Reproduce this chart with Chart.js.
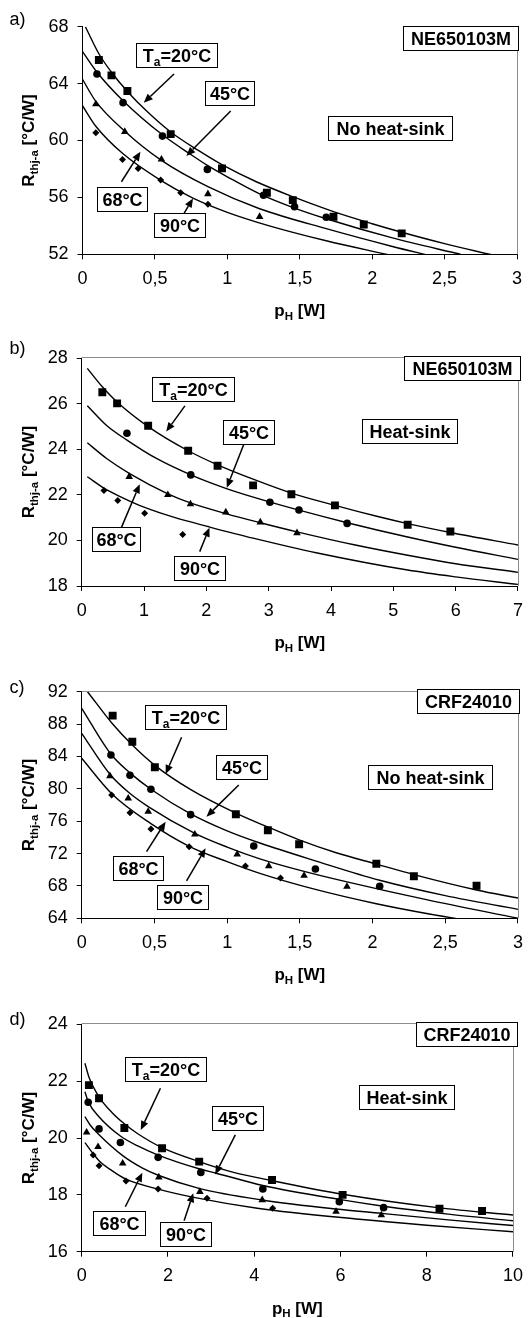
<!DOCTYPE html>
<html><head><meta charset="utf-8">
<script src="https://cdn.jsdelivr.net/npm/chart.js@4.4.1/dist/chart.umd.min.js"></script>
<style>
html,body{margin:0;padding:0;background:#fff;}
#wrap{position:relative;width:532px;height:1318px;overflow:hidden;}
canvas{position:absolute;left:0;}
</style></head><body><div id="wrap">
<canvas id="ca" width="532" height="329" style="top:0px"></canvas>
<canvas id="cb" width="532" height="330" style="top:329px"></canvas>
<canvas id="cc" width="532" height="329" style="top:659px"></canvas>
<canvas id="cd" width="532" height="330" style="top:988px"></canvas>
</div>
<script>
// ---------- Panel a (NE650103M, no heat-sink) ----------
const aXTicks = [0, 0.5, 1, 1.5, 2, 2.5, 3];
const aYTicks = [52, 56, 60, 64, 68];
const a20x = [0.113, 0.2, 0.31, 0.609, 0.963, 1.273, 1.452, 1.733, 1.942, 2.204];
const a20y = [65.66, 64.58, 63.48, 60.45, 58.04, 56.33, 55.81, 54.64, 54.1, 53.47];
const a45x = [0.1, 0.28, 0.552, 0.862, 1.25, 1.464, 1.683];
const a45y = [64.67, 62.66, 60.31, 57.97, 56.15, 55.34, 54.6];
const a68x = [0.092, 0.292, 0.545, 0.866, 1.223];
const a68y = [62.56, 60.62, 58.67, 56.24, 54.64];
const a90x = [0.092, 0.276, 0.384, 0.54, 0.678, 0.866];
const a90y = [60.55, 58.67, 58.04, 57.22, 56.33, 55.51];
const aF20x = [0.02, 0.113, 0.2, 0.31, 0.45, 0.609, 0.8, 0.963, 1.2, 1.452, 1.733, 2.0, 2.204, 2.5, 2.83];
const aF20y = [68.0, 66.1, 64.8, 63.45, 62.0, 60.6, 59.3, 58.3, 57.1, 56.05, 55.0, 54.15, 53.55, 52.75, 51.95];
const aF45x = [0.0, 0.1, 0.28, 0.552, 0.75, 0.862, 1.0, 1.223, 1.464, 1.683, 2.14, 2.61];
const aF45y = [66.25, 64.8, 62.8, 60.4, 59.0, 58.25, 57.45, 56.25, 55.25, 54.5, 53.15, 52.0];
const aF68x = [0.0, 0.092, 0.292, 0.545, 0.866, 1.223, 1.683, 2.14, 2.4];
const aF68y = [64.3, 62.75, 60.65, 58.6, 56.75, 55.2, 53.8, 52.55, 51.9];
const aF90x = [0.0, 0.092, 0.276, 0.54, 0.763, 1.0, 1.29, 1.683, 2.12];
const aF90y = [62.45, 61.0, 59.1, 57.2, 55.95, 54.95, 54.0, 52.95, 51.95];

// ---------- Panel b (NE650103M, heat-sink) ----------
const bXTicks = [0, 1, 2, 3, 4, 5, 6, 7];
const bYTicks = [18, 20, 22, 24, 26, 28];
const b20x = [0.331, 0.568, 1.066, 1.708, 2.18, 2.75, 3.364, 4.063, 5.23, 5.915];
const b20y = [26.51, 26.02, 25.04, 23.94, 23.28, 22.42, 22.03, 21.54, 20.69, 20.39];
const b45x = [0.726, 1.75, 3.02, 3.486, 4.259];
const b45y = [24.71, 22.88, 21.68, 21.34, 20.75];
const b68x = [0.762, 1.382, 1.745, 2.312, 2.865, 3.454];
const b68y = [22.8, 22.0, 21.6, 21.24, 20.8, 20.33];
const b90x = [0.357, 0.578, 1.01, 1.62];
const b90y = [22.19, 21.75, 21.2, 20.26];
const bF20x = [0.09, 0.331, 0.568, 1.066, 1.708, 2.18, 2.75, 3.364, 4.063, 4.75, 5.23, 5.915, 7];
const bF20y = [27.56, 26.75, 26.08, 25.0, 23.94, 23.32, 22.69, 22.08, 21.54, 21.05, 20.74, 20.35, 19.8];
const bF45x = [0.09, 0.4, 0.726, 1.2, 1.75, 2.3, 2.78, 3.486, 4.26, 5.23, 6.0, 7];
const bF45y = [25.92, 25.05, 24.41, 23.6, 22.88, 22.3, 21.88, 21.33, 20.78, 20.15, 19.7, 19.17];
const bF68x = [0.09, 0.4, 0.762, 1.382, 1.745, 2.312, 2.865, 3.454, 4.39, 5.23, 6.0, 7];
const bF68y = [24.29, 23.6, 22.95, 22.05, 21.65, 21.18, 20.78, 20.38, 19.8, 19.35, 18.98, 18.6];
const bF90x = [0.09, 0.357, 0.6, 1.01, 1.5, 2.04, 2.75, 3.78, 5.23, 6.0, 7];
const bF90y = [22.8, 22.3, 21.95, 21.45, 21.0, 20.6, 20.1, 19.45, 18.7, 18.4, 18.07];

// ---------- Panel c (CRF24010, no heat-sink) ----------
const cXTicks = [0, 0.5, 1, 1.5, 2, 2.5, 3];
const cYTicks = [64, 68, 72, 76, 80, 84, 88, 92];
const c20x = [0.213, 0.348, 0.503, 1.06, 1.28, 1.495, 2.026, 2.284, 2.715];
const c20y = [89.04, 85.82, 82.66, 76.85, 74.88, 73.15, 70.75, 69.2, 68.03];
const c45x = [0.201, 0.332, 0.476, 0.749, 1.183, 1.607, 2.049];
const c45y = [84.18, 81.67, 79.94, 76.81, 72.94, 70.1, 67.96];
const c68x = [0.194, 0.32, 0.457, 0.778, 1.069, 1.286, 1.529, 1.824];
const c68y = [81.59, 78.83, 77.18, 74.38, 71.91, 70.47, 69.27, 67.91];
const c90x = [0.206, 0.332, 0.476, 0.739, 1.126, 1.367];
const c90y = [79.24, 77.05, 75.04, 72.85, 70.47, 68.99];
const cF20x = [0.04, 0.213, 0.348, 0.503, 0.75, 1.06, 1.277, 1.495, 1.75, 2.026, 2.284, 2.715, 3.0];
const cF20y = [92.0, 88.0, 85.4, 82.9, 79.9, 77.0, 75.3, 73.7, 72.1, 70.7, 69.4, 67.5, 66.5];
const cF45x = [0, 0.2, 0.33, 0.476, 0.749, 1.0, 1.225, 1.607, 2.049, 2.5, 3.0];
const cF45y = [89.95, 84.3, 82.0, 79.95, 76.9, 74.8, 73.3, 71.1, 68.7, 66.8, 65.1];
const cF68x = [0, 0.194, 0.32, 0.457, 0.778, 1.0, 1.225, 1.529, 1.824, 2.37, 3.0];
const cF68y = [86.86, 81.8, 79.6, 77.8, 74.5, 72.8, 71.35, 69.8, 68.5, 66.3, 64.0];
const cF90x = [0, 0.206, 0.476, 0.739, 1.0, 1.225, 1.6, 2.026, 2.4, 2.7];
const cF90y = [83.77, 79.4, 75.7, 72.9, 71.0, 69.55, 67.6, 65.8, 64.5, 63.6];

// ---------- Panel d (CRF24010, heat-sink) ----------
const dXTicks = [0, 2, 4, 6, 8, 10];
const dYTicks = [16, 18, 20, 22, 24];
const d20x = [0.167, 0.402, 0.989, 1.863, 2.724, 4.413, 6.05, 8.295, 9.283];
const d20y = [21.86, 21.4, 20.35, 19.64, 19.17, 18.52, 18.0, 17.51, 17.43];
const d45x = [0.151, 0.402, 0.897, 1.772, 2.762, 4.2, 5.973, 7.0];
const d45y = [21.26, 20.32, 19.84, 19.32, 18.79, 18.21, 17.76, 17.55];
const d68x = [0.114, 0.379, 0.95, 1.788, 2.74, 4.185, 5.897, 6.947];
const d68y = [20.2, 19.69, 19.11, 18.62, 18.11, 17.82, 17.41, 17.29];
const d90x = [0.265, 0.402, 1.027, 1.772, 2.906, 4.429];
const d90y = [19.4, 19.02, 18.49, 18.21, 17.88, 17.53];
const dF20x = [0.075, 0.167, 0.402, 0.7, 0.989, 1.3, 1.863, 2.72, 3.5, 4.41, 6.05, 8.3, 10];
const dF20y = [22.63, 22.15, 21.45, 20.9, 20.5, 20.15, 19.66, 19.17, 18.8, 18.5, 18.02, 17.54, 17.29];
const dF45x = [0.075, 0.151, 0.4, 0.897, 1.3, 1.772, 2.76, 3.1, 4.2, 5.97, 7.0, 8.5, 10];
const dF45y = [21.63, 21.28, 20.75, 20.07, 19.72, 19.4, 18.9, 18.77, 18.33, 17.84, 17.6, 17.32, 17.09];
const dF68x = [0.075, 0.2, 0.379, 0.95, 1.4, 1.788, 2.74, 4.18, 5.9, 6.95, 8.5, 10];
const dF68y = [20.75, 20.45, 20.15, 19.38, 18.95, 18.68, 18.22, 17.82, 17.5, 17.35, 17.12, 16.92];
const dF90x = [0.075, 0.265, 0.402, 0.7, 1.027, 1.772, 2.6, 4.07, 6.44, 8.0, 10];
const dF90y = [19.84, 19.45, 19.2, 18.85, 18.55, 18.2, 17.91, 17.53, 17.14, 16.93, 16.7];

// ---------- text / annotation labels ----------
const TA = [['T', 18, 0], ['a', 12, 4], ['=20°C', 18, 0]];
const T45 = [['45°C', 18, 0]], T68 = [['68°C', 18, 0]], T90 = [['90°C', 18, 0]];

const FONT = "'Liberation Sans', Arial, Helvetica, sans-serif";

const MARK = [
  {pointStyle: 'rect', pointRadius: 5.6},
  {pointStyle: 'circle', pointRadius: 3.8},
  {pointStyle: 'triangle', pointRadius: 4.4},
  {pointStyle: 'rectRot', pointRadius: 3.5}
];

function pts(xs, ys) { return xs.map((x, i) => ({x: x, y: ys[i]})); }

function rich(c, parts, x, y, align) {
  const ws = [];
  let total = 0;
  parts.forEach(p => { c.font = 'bold ' + p[1] + 'px ' + FONT; const w = c.measureText(p[0]).width; ws.push(w); total += w; });
  let cx = align === 'center' ? x - total / 2 : x;
  c.fillStyle = '#000'; c.textBaseline = 'alphabetic'; c.textAlign = 'left';
  parts.forEach((p, i) => { c.font = 'bold ' + p[1] + 'px ' + FONT; c.fillText(p[0], cx, y + p[2]); cx += ws[i]; });
}

const DECO = {};

const decoPlugin = {
  id: 'deco',
  afterDraw(chart) {
    const o = DECO[chart.canvas.id];
    if (!o) return;
    const c = chart.ctx, ca = chart.chartArea, X = chart.scales.x, Y = chart.scales.y;
    const px = v => X.getPixelForValue(v), py = v => Y.getPixelForValue(v);
    c.save();
    // plot border (grey)
    c.strokeStyle = '#8c8c8c'; c.lineWidth = 1;
    c.beginPath();
    const rx = Math.round(ca.right) + 0.5, ty = Math.round(ca.top) - 0.5;
    if (o.top) { c.moveTo(ca.left, ty); c.lineTo(rx, ty); }
    c.moveTo(rx, ty); c.lineTo(rx, ca.bottom);
    c.stroke();
    // arrows
    c.strokeStyle = '#000'; c.fillStyle = '#000'; c.lineWidth = 1.5;
    o.arrows.forEach(a => {
      const x1 = px(a[0]), y1 = py(a[1]), x2 = px(a[2]), y2 = py(a[3]);
      const ang = Math.atan2(y2 - y1, x2 - x1), L = 9, W = 3.8;
      const bx = x2 - L * Math.cos(ang), by = y2 - L * Math.sin(ang);
      c.beginPath(); c.moveTo(x1, y1); c.lineTo(bx, by); c.stroke();
      c.beginPath(); c.moveTo(x2, y2);
      c.lineTo(bx - W * Math.sin(ang), by + W * Math.cos(ang));
      c.lineTo(bx + W * Math.sin(ang), by - W * Math.cos(ang));
      c.closePath(); c.fill();
    });
    // boxes
    o.boxes.forEach(b => {
      const cx = px(b.x), cy = py(b.y), w = b.w, h = 24;
      const l = Math.round(cx - w / 2) + 0.5, t = Math.round(cy - h / 2) + 0.5;
      c.fillStyle = '#fff'; c.fillRect(l, t, Math.round(w), h);
      c.strokeStyle = '#000'; c.lineWidth = 1; c.strokeRect(l, t, Math.round(w), h);
      rich(c, b.parts, l + Math.round(w) / 2, t + h / 2 + 6.5, 'center');
    });
    // panel label
    c.fillStyle = '#000'; c.font = '18px ' + FONT; c.textAlign = 'left'; c.textBaseline = 'alphabetic';
    c.fillText(o.label, 9.5, ca.top + o.labelDy);
    // x title
    rich(c, [['p', 17, 0], ['H', 11.5, 3.5], [' [W]', 17, 0]], (ca.left + ca.right) / 2, ca.bottom + 62, 'center');
    // y title
    c.translate(34, (ca.top + ca.bottom) / 2);
    c.rotate(-Math.PI / 2);
    rich(c, [['R', 17, 0], ['thj-a', 11.5, 3.5], [' [°C/W]', 17, 0]], 0, 0, 'center');
    c.restore();
  }
};

function buildChart(id, geo, xt, yt, series, fits) {
  const datasets = [];
  series.forEach((s, i) => datasets.push({
    data: pts(s[0], s[1]), showLine: false,
    pointStyle: MARK[i].pointStyle, pointRadius: MARK[i].pointRadius, pointHoverRadius: MARK[i].pointRadius,
    pointBackgroundColor: '#000', pointBorderColor: '#000', pointBorderWidth: 0,
    backgroundColor: '#000', borderColor: '#000'
  }));
  fits.forEach(f => datasets.push({
    data: pts(f[0], f[1]), showLine: true, pointRadius: 0, pointHoverRadius: 0,
    borderColor: '#000', borderWidth: 1.4, fill: false, cubicInterpolationMode: 'monotone'
  }));
  const tickFont = {family: FONT, size: 18};
  new Chart(document.getElementById(id), {
    type: 'line',
    data: {datasets: datasets},
    options: {
      responsive: false, animation: false, events: [],
      layout: {padding: {top: geo.top, right: geo.right, left: 0, bottom: 0}},
      plugins: {legend: {display: false}, tooltip: {enabled: false}},
      scales: {
        x: {
          type: 'linear', min: xt[0], max: xt[xt.length - 1],
          afterBuildTicks: s => { s.ticks = xt.map(v => ({value: v})); },
          afterFit: s => { s.height = geo.xh; },
          ticks: {font: tickFont, color: '#000', padding: 9, maxRotation: 0, autoSkip: false,
                  callback: v => String(v).replace('.', ',')},
          grid: {drawOnChartArea: false, drawTicks: true, tickLength: 5, color: '#000', lineWidth: 1},
          border: {display: true, color: '#000', width: 1}
        },
        y: {
          type: 'linear', min: yt[0], max: yt[yt.length - 1],
          afterBuildTicks: s => { s.ticks = yt.map(v => ({value: v})); },
          afterFit: s => { s.width = geo.left; },
          ticks: {font: tickFont, color: '#000', padding: 9, autoSkip: false},
          grid: {drawOnChartArea: false, drawTicks: true, tickLength: 5, color: '#000', lineWidth: 1},
          border: {display: true, color: '#000', width: 1}
        }
      }
    },
    plugins: [decoPlugin]
  });
}

DECO.ca = {
  label: 'a)', labelDy: -2, top: false,
  boxes: [
    {parts: TA, x: 0.647, y: 66.03, w: 81},
    {parts: T45, x: 1.012, y: 63.34, w: 49},
    {parts: T68, x: 0.271, y: 55.88, w: 50},
    {parts: T90, x: 0.668, y: 54.09, w: 51},
    {parts: [['NE650103M', 18, 0]], x: 2.612, y: 67.24, w: 115},
    {parts: [['No heat-sink', 18, 0]], x: 2.126, y: 60.91, w: 124}
  ],
  arrows: [[0.632, 64.67, 0.423, 62.66], [1.023, 62.07, 0.717, 58.91], [0.269, 57.1, 0.4, 59.21], [0.694, 54.76, 0.763, 55.93]]
};
DECO.cb = {
  label: 'b)', labelDy: -4, top: true,
  boxes: [
    {parts: TA, x: 1.787, y: 26.65, w: 82},
    {parts: T45, x: 2.675, y: 24.78, w: 51},
    {parts: T68, x: 0.552, y: 20.06, w: 48},
    {parts: T90, x: 1.887, y: 18.79, w: 51},
    {parts: [['NE650103M', 18, 0]], x: 6.104, y: 27.58, w: 116},
    {parts: [['Heat-sink', 18, 0]], x: 5.257, y: 24.79, w: 95}
  ],
  arrows: [[1.656, 25.91, 1.356, 24.78], [2.628, 24.41, 2.328, 22.32], [0.631, 20.53, 0.931, 22.47], [1.893, 19.51, 2.05, 20.56]]
};
DECO.cc = {
  label: 'c)', labelDy: 1, top: true,
  boxes: [
    {parts: TA, x: 0.713, y: 88.91, w: 81},
    {parts: T45, x: 1.096, y: 82.74, w: 51},
    {parts: T68, x: 0.389, y: 70.18, w: 50},
    {parts: T90, x: 0.694, y: 66.61, w: 51},
    {parts: [['CRF24010', 18, 0]], x: 2.657, y: 90.81, w: 102},
    {parts: [['No heat-sink', 18, 0]], x: 2.397, y: 81.4, w: 124}
  ],
  arrows: [[0.687, 86.37, 0.577, 81.83], [1.08, 80.47, 0.858, 76.56], [0.446, 72.23, 0.577, 75.94], [0.721, 68.61, 0.852, 72.65]]
};
DECO.cd = {
  label: 'd)', labelDy: 1, top: true,
  boxes: [
    {parts: TA, x: 1.932, y: 22.42, w: 81},
    {parts: T45, x: 3.607, y: 20.69, w: 51},
    {parts: T68, x: 0.856, y: 17.01, w: 52},
    {parts: T90, x: 2.397, y: 16.62, w: 51},
    {parts: [['CRF24010', 18, 0]], x: 8.915, y: 23.67, w: 101},
    {parts: [['Heat-sink', 18, 0]], x: 7.534, y: 21.43, w: 95}
  ],
  arrows: [[1.826, 21.75, 1.37, 20.28], [3.562, 20.11, 3.096, 18.72], [1.011, 17.58, 1.406, 18.78], [2.374, 17.09, 2.587, 18.06]]
};

buildChart('ca', {top: 26.7, right: 15, left: 82.5, xh: 74.7}, aXTicks, aYTicks,
  [[a20x, a20y], [a45x, a45y], [a68x, a68y], [a90x, a90y]],
  [[aF20x, aF20y], [aF45x, aF45y], [aF68x, aF68y], [aF90x, aF90y]]);
buildChart('cb', {top: 29.3, right: 6, left: 81.7, xh: 73}, bXTicks, bYTicks,
  [[b20x, b20y], [b45x, b45y], [b68x, b68y], [b90x, b90y]],
  [[bF20x, bF20y], [bF45x, bF45y], [bF68x, bF68y], [bF90x, bF90y]]);
buildChart('cc', {top: 32.7, right: 13.5, left: 81.7, xh: 69.7}, cXTicks, cYTicks,
  [[c20x, c20y], [c45x, c45y], [c68x, c68y], [c90x, c90y]],
  [[cF20x, cF20y], [cF45x, cF45y], [cF68x, cF68y], [cF90x, cF90y]]);
buildChart('cd', {top: 36.3, right: 12, left: 81.7, xh: 66.3}, dXTicks, dYTicks,
  [[d20x, d20y], [d45x, d45y], [d68x, d68y], [d90x, d90y]],
  [[dF20x, dF20y], [dF45x, dF45y], [dF68x, dF68y], [dF90x, dF90y]]);
</script>
</body></html>
